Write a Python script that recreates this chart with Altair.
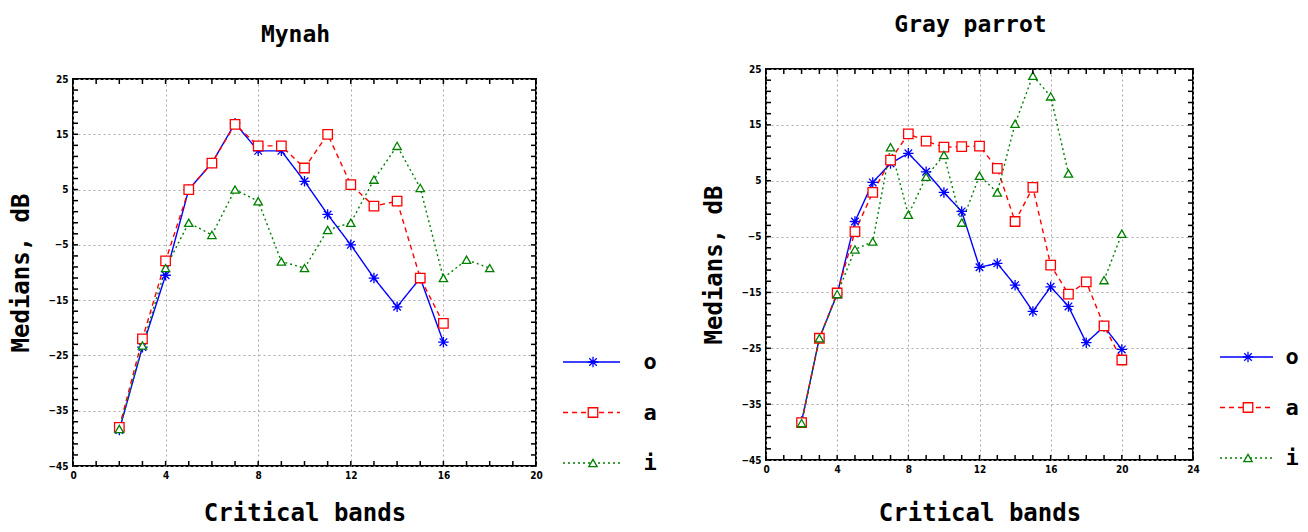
import altair as alt
import pandas as pd

# ---------------- data ----------------
series_keys = ["o", "a", "i"]
series_colors = ["#0000ff", "#ff0000", "#008000"]
series_dashes = [[1, 0], [5, 4], [2, 3]]
asterisk = "M-1,0L1,0M0,-1L0,1M-0.72,-0.72L0.72,0.72M-0.72,0.72L0.72,-0.72"
series_shapes = [asterisk, "square", "triangle-up"]

y_labels = [25, 15, 5, -5, -15, -25, -35, -45]
y_minor = [25, 23, 21, 19, 17, 15, 13, 11, 9, 7, 5, 3, 1, -1, -3, -5, -7, -9, -11,
           -13, -15, -17, -19, -21, -23, -25, -27, -29, -31, -33, -35, -37, -39,
           -41, -43, -45]

# Mynah
mynah_x_labels = [0, 4, 8, 12, 16, 20]
mynah_x_minor = [0, 1, 2, 3, 4, 5, 6, 7, 8, 9, 10, 11, 12, 13, 14, 15, 16, 17, 18, 19, 20]
mynah_bands_o = [2, 3, 4, 5, 6, 7, 8, 9, 10, 11, 12, 13, 14, 15, 16]
mynah_o = [-38.5, -23.5, -10.5, 5.0, 9.8, 17.0, 12.0, 12.0, 6.5, 0.5, -5.0, -11.0, -16.2, -11.0, -22.6]
mynah_bands_a = [2, 3, 4, 5, 6, 7, 8, 9, 10, 11, 12, 13, 14, 15, 16]
mynah_a = [-38.0, -22.0, -7.9, 5.0, 9.8, 16.8, 12.9, 12.9, 8.9, 15.0, 5.9, 2.0, 2.9, -11.0, -19.2]
mynah_bands_i = [2, 3, 4, 5, 6, 7, 8, 9, 10, 11, 12, 13, 14, 15, 16, 17, 18]
mynah_i = [-38.3, -23.2, -9.2, -1.0, -3.2, 5.0, 2.9, -8.0, -9.2, -2.3, -1.0, 6.8, 12.9, 5.3, -11.0, -7.7, -9.2]

# Gray parrot
parrot_x_labels = [0, 4, 8, 12, 16, 20, 24]
parrot_x_minor = [0, 1, 2, 3, 4, 5, 6, 7, 8, 9, 10, 11, 12, 13, 14, 15, 16, 17, 18, 19, 20, 21, 22, 23, 24]
parrot_bands = [2, 3, 4, 5, 6, 7, 8, 9, 10, 11, 12, 13, 14, 15, 16, 17, 18, 19, 20]
parrot_o = [-38.1, -23.2, -15.3, -2.3, 4.7, 8.1, 9.9, 6.6, 2.9, -0.5, -10.5, -9.8, -13.7, -18.4, -14.0, -17.5, -24.0, -21.1, -25.2]
parrot_a = [-38.3, -23.2, -15.1, -4.1, 2.9, 8.7, 13.4, 12.1, 11.0, 11.1, 11.2, 7.2, -2.3, 3.8, -10.1, -15.3, -13.1, -21.0, -27.1]
parrot_i = [-38.4, -23.2, -15.3, -7.3, -5.9, 11.0, -1.1, 5.7, 9.6, -2.5, 5.9, 2.9, 15.2, 23.8, 20.1, 6.3, None, -12.8, -4.5]

MONO = "DejaVu Sans Mono"
SMALL = "DejaVu Sans Condensed, DejaVu Sans"


def long_rows(bands_by_key, values_by_key):
    rows = []
    for key in series_keys:
        seg = 0
        for b, v in zip(bands_by_key[key], values_by_key[key]):
            if v is None:
                seg += 1
                continue
            rows.append({"band": b, "value": v, "series": key, "seg": seg})
    return pd.DataFrame(rows)


def panel(title_text, df, xmax, x_labels, x_minor, W, H, sym_size, ast_size,
          leg_rows, leg_line, leg_sym, leg_txt, x_title_pad):
    xs = alt.Scale(domain=[0, xmax], nice=False, zero=False)
    ys = alt.Scale(domain=[-45, 25], nice=False, zero=False)
    color = alt.Color("series:N", scale=alt.Scale(domain=series_keys, range=series_colors), legend=None)
    dash = alt.StrokeDash("series:N", scale=alt.Scale(domain=series_keys, range=series_dashes), legend=None)
    shape = alt.Shape("series:N", scale=alt.Scale(domain=series_keys, range=series_shapes), legend=None)
    size = alt.Size("series:N", scale=alt.Scale(domain=series_keys,
                                                range=[ast_size, sym_size, sym_size]),
                    legend=None)

    x_enc = alt.X("band:Q", scale=xs, axis=alt.Axis(
        values=x_labels, title="Critical bands", grid=True, ticks=False, domain=False,
        labelFlush=False, labelPadding=4, titlePadding=x_title_pad))
    y_enc = alt.Y("value:Q", scale=ys, axis=alt.Axis(
        values=y_labels, title="Medians, dB", grid=True, ticks=False, domain=False,
        labelPadding=5, titlePadding=14))

    base = alt.Chart(df)
    lines = base.mark_line(strokeWidth=1.4).encode(
        x=x_enc, y=y_enc, color=color, strokeDash=dash, detail="seg:N")
    pts = base.mark_point(filled=False, fill="white", fillOpacity=1, opacity=1,
                          strokeWidth=1.3).encode(
        x=alt.X("band:Q", scale=xs), y=alt.Y("value:Q", scale=ys),
        color=color, shape=shape, size=size)

    xt = pd.DataFrame({"band": x_minor})
    yt = pd.DataFrame({"value": y_minor})
    tick_style = dict(color="black", strokeWidth=1.5)
    top = alt.Chart(xt).mark_rule(**tick_style).encode(
        x=alt.X("band:Q", scale=xs), y=alt.value(0), y2=alt.value(5))
    bottom = alt.Chart(xt).mark_rule(**tick_style).encode(
        x=alt.X("band:Q", scale=xs), y=alt.value(H), y2=alt.value(H - 5))
    left = alt.Chart(yt).mark_rule(**tick_style).encode(
        y=alt.Y("value:Q", scale=ys), x=alt.value(0), x2=alt.value(5))
    right = alt.Chart(yt).mark_rule(**tick_style).encode(
        y=alt.Y("value:Q", scale=ys), x=alt.value(W), x2=alt.value(W - 5))

    plot = alt.layer(lines, pts, top, bottom, left, right)

    ldf = pd.DataFrame({"series": series_keys})
    ly = alt.Y("series:N", scale=alt.Scale(type="point", domain=series_keys,
                                           range=leg_rows, padding=0), axis=None)
    lrule = alt.Chart(ldf).mark_rule(strokeWidth=1.4).encode(
        x=alt.value(W + leg_line[0]), x2=alt.value(W + leg_line[1]), y=ly,
        color=color, strokeDash=dash)
    lpt = alt.Chart(ldf).mark_point(filled=False, fill="white", fillOpacity=1, opacity=1,
                                    strokeWidth=1.3).encode(
        x=alt.value(W + leg_sym), y=ly, color=color, shape=shape, size=size)
    ltxt = alt.Chart(ldf).mark_text(font=MONO, fontSize=22, fontWeight="bold",
                                    color="black", align="center", baseline="middle").encode(
        x=alt.value(W + leg_txt), y=ly, text="series:N")
    legend = alt.layer(lrule, lpt, ltxt)

    return alt.layer(plot, legend).resolve_scale(y="independent").properties(
        width=W, height=H,
        title=alt.TitleParams(text=title_text, font=MONO, fontSize=23, fontWeight="bold",
                              color="black", offset=27, dx=-9))


mynah_df = long_rows({"o": mynah_bands_o, "a": mynah_bands_a, "i": mynah_bands_i},
                     {"o": mynah_o, "a": mynah_a, "i": mynah_i})
parrot_df = long_rows({"o": parrot_bands, "a": parrot_bands, "i": parrot_bands},
                      {"o": parrot_o, "a": parrot_a, "i": parrot_i})

mynah = panel("Mynah", mynah_df, 20, mynah_x_labels, mynah_x_minor, 463, 387,
              70, 110, [283, 384], (27, 84), 57, 114, 21)
parrot = panel("Gray parrot", parrot_df, 24, parrot_x_labels, parrot_x_minor, 427, 391,
               50, 80, [288, 389], (27, 80), 55, 99, 27)

# invisible spacer that lowers the Mynah panel relative to the Gray parrot panel
spacer = alt.Chart(pd.DataFrame({"series": ["o"]})).mark_point(opacity=0).encode(
    x=alt.value(0), y=alt.value(0)
).properties(width=10, height=10, view=alt.ViewBackground(stroke="transparent"))

mynah_col = alt.vconcat(spacer, mynah, spacing=0, bounds="flush")

chart = alt.hconcat(mynah_col, parrot, spacing=43).properties(
    padding={"left": 0, "top": 5, "right": 0, "bottom": 0}
).configure_view(stroke="black", strokeWidth=2).configure_axis(
    labelFont=SMALL, labelFontSize=10, labelFontWeight="bold", labelColor="black",
    titleFont=MONO, titleFontSize=24, titleFontWeight="bold", titleColor="black",
    gridColor="#a8a8a8", gridDash=[2, 3], gridWidth=1, labelOverlap=False
)

chart.save("out.html", embed_options={"renderer": "svg", "actions": False})
